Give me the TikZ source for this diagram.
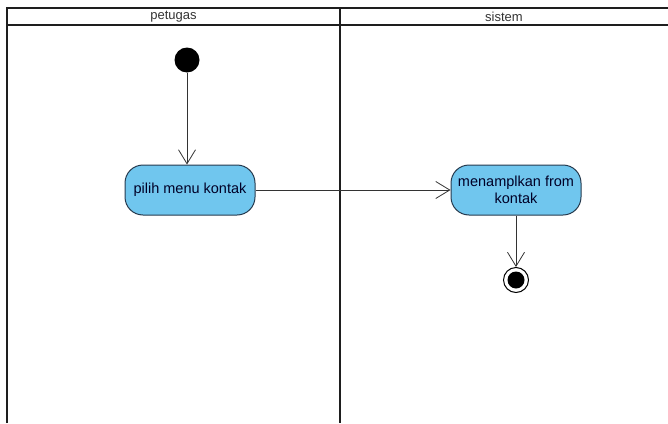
\documentclass[tikz,border=0pt]{standalone}
\usepackage{fontspec}
\setmainfont{Liberation Sans}
\usetikzlibrary{arrows.meta}
\definecolor{actfill}{RGB}{112,198,238}
\definecolor{actline}{RGB}{38,58,78}
\definecolor{laneline}{RGB}{30,30,30}

\begin{document}
\begin{tikzpicture}[x=1pt,y=-1pt,
		lane/.style={draw=laneline,line width=2pt},
		action/.style={draw=actline,fill=actfill,line width=1pt,rounded corners=18pt,
			minimum width=130pt,minimum height=50pt,align=center,inner sep=2pt,
			text=black!85!blue,font=\fontsize{14.5}{17}\selectfont},
		flow/.style={draw=black!80,line width=0.8pt,-{Straight Barb[length=14pt,width=17pt,line width=0.8pt]}}]
		\useasboundingbox (0,0) rectangle (668,423);
		% Swimlanes
		\draw[lane] (7,423) -- (7,8) -- (668,8);
		\draw[lane] (7,25) -- (668,25);
		\draw[lane] (340,8) -- (340,423);
		\node[font=\fontsize{13}{15}\selectfont,text=black!80] (petugas) at (173.5,16.5) {petugas};
		\node[font=\fontsize{13}{15}\selectfont,text=black!80] (sistem) at (504,16.5) {sistem};

		% Initial node
		\node[circle,fill=black,minimum size=25pt,inner sep=0pt] (start) at (187,60) {};

		% Actions
		\node[action] (pilih) at (190,190) {pilih menu kontak};
		\node[action] (tampil) at (516,190) {menamplkan from\\kontak};

		% Final node
		\node[circle,draw=black,line width=1pt,minimum size=25pt,inner sep=0pt] (end) at (516,280) {};
		\node[circle,fill=black,minimum size=17pt,inner sep=0pt] (endin) at (end) {};

		% Flows
		\draw[flow] (start) -- (start |- pilih.north);
		\draw[flow] (pilih) -- (tampil);
		\draw[flow] (tampil) -- (end);
	\end{tikzpicture}
\end{document}
